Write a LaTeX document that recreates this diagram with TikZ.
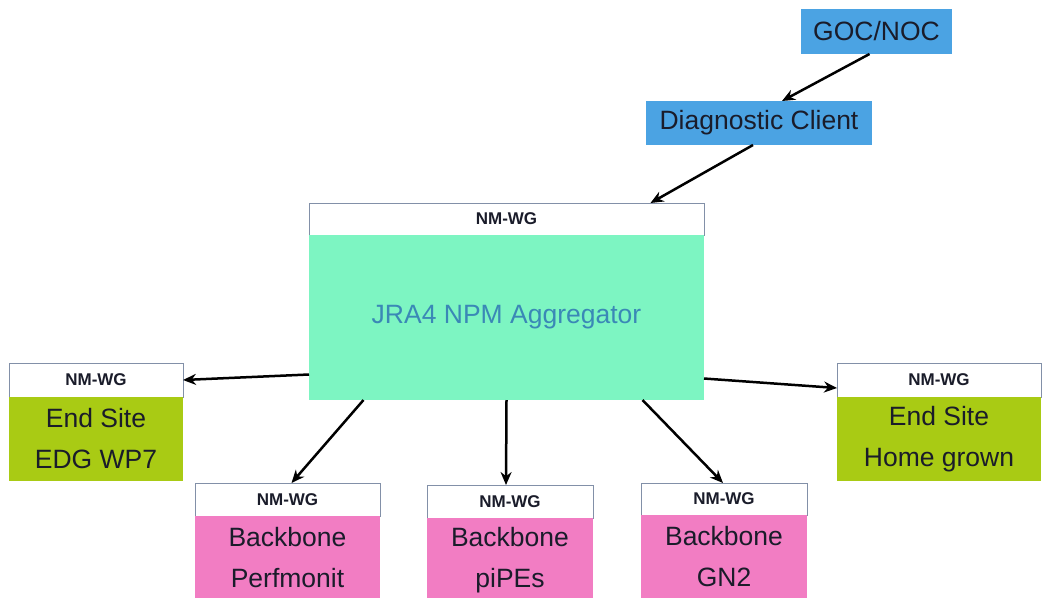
\documentclass[tikz,border=0pt]{standalone}
\usepackage{fontspec}
\setmainfont{Liberation Sans}
\usetikzlibrary{arrows.meta}
\definecolor{bluebox}{HTML}{4BA3E3}
\definecolor{aqua}{HTML}{7DF5C2}
\definecolor{olive}{HTML}{A9CB14}
\definecolor{pinkbox}{HTML}{F27DC3}
\definecolor{hdrline}{HTML}{8290A8}
\definecolor{txt}{HTML}{1A1C2A}
\definecolor{aggtxt}{HTML}{3A88B6}
\tikzset{
  box/.style={anchor=north west, inner sep=0pt, outer sep=0pt, text=txt, font=\fontsize{26.5}{41}\selectfont, align=center},
  hdr/.style={box, fill=white, draw=hdrline, line width=0.8pt, font=\bfseries\fontsize{17}{18}\selectfont},
  arr/.style={draw=black, line width=2.5pt, -{Stealth[length=13pt,width=11pt]}},
}
\begin{document}
\begin{tikzpicture}[x=1pt,y=-1pt]
\useasboundingbox (0,0) rectangle (1046,597);
% top
\node[box, fill=bluebox, minimum width=151pt, minimum height=45pt] (goc) at (801,9) {GOC/NOC};
\node[box, fill=bluebox, minimum width=226pt, minimum height=44pt] (dc) at (646,101) {Diagnostic Client};
% aggregator
\node[hdr, minimum width=395pt, minimum height=32pt] (agghdr) at (309,203) {NM-WG};
\node[box, fill=aqua, minimum width=395pt, minimum height=165pt, text=aggtxt] (agg) at (309,235) {JRA4 NPM Aggregator};
% end sites
\node[hdr, minimum width=174pt, minimum height=34pt] (lhdr) at (9,363) {NM-WG};
\node[box, fill=olive, minimum width=174pt, minimum height=84pt] (lbox) at (9,397) {End Site\\EDG WP7};
\node[hdr, minimum width=204pt, minimum height=34pt] (rhdr) at (837,363) {NM-WG};
\node[box, fill=olive, minimum width=204pt, minimum height=84pt] (rbox) at (837,397) {End Site\\Home grown};
% backbones
\node[hdr, minimum width=185pt, minimum height=33pt] (b1hdr) at (195,483) {NM-WG};
\node[box, fill=pinkbox, minimum width=185pt, minimum height=84pt] (b1) at (195,516) {Backbone\\Perfmonit};
\node[hdr, minimum width=166pt, minimum height=33pt] (b2hdr) at (427,485) {NM-WG};
\node[box, fill=pinkbox, minimum width=166pt, minimum height=84pt] (b2) at (427,518) {Backbone\\piPEs};
\node[hdr, minimum width=166pt, minimum height=32pt] (b3hdr) at (641,483) {NM-WG};
\node[box, fill=pinkbox, minimum width=166pt, minimum height=84pt] (b3) at (641,515) {Backbone\\GN2};
% arrows
\draw[arr] ([xshift=-7pt]goc.south) -- ([xshift=23pt]dc.north);
\draw[arr] ([xshift=-6pt]dc.south) -- ([xshift=144pt]agghdr.north);
\draw[arr] ([yshift=-57pt]agg.west) -- (lhdr.east);
\draw[arr] ([yshift=-61pt]agg.east) -- ([yshift=-8pt]rhdr.west);
\draw[arr] ([xshift=-143pt]agg.south) -- ([xshift=4pt]b1hdr.north);
\draw[arr] ([xshift=0pt]agg.south) -- ([xshift=-4pt]b2hdr.north);
\draw[arr] ([xshift=136pt]agg.south) -- ([xshift=-1pt]b3hdr.north);
\end{tikzpicture}
\end{document}
